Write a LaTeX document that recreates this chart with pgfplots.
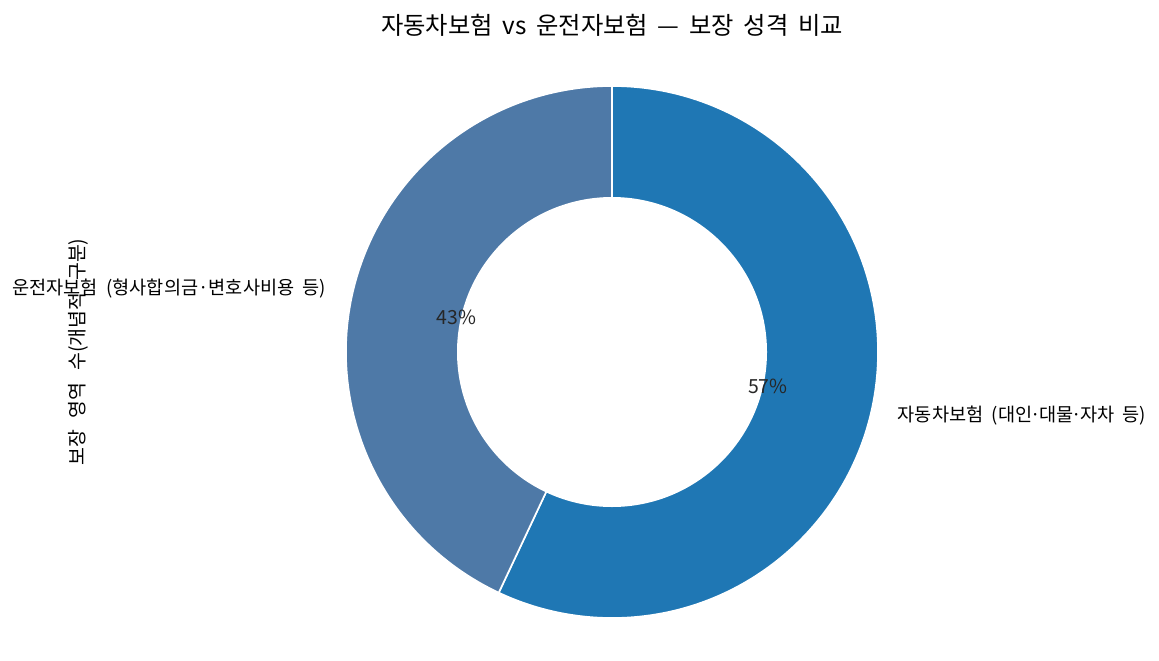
\documentclass[border=0pt]{standalone}
\usepackage{pgfplots}
\pgfplotsset{compat=1.18}
\usepackage{fontspec}
\setmainfont{Noto Sans CJK KR}
\definecolor{cA}{HTML}{1F77B4}
\definecolor{cB}{HTML}{4E79A7}
\definecolor{pct}{RGB}{38,38,38}
\begin{document}
\begin{tikzpicture}
% data (percent shares)
\def\va{57}% 자동차보험
\def\vb{43}% 운전자보험
\pgfmathsetmacro\aB{90-3.6*\va}
\pgfmathsetmacro\mA{90-1.8*\va}
\pgfmathsetmacro\mB{\aB-1.8*\vb}
\pgfmathsetmacro\lAx{1.1*cos(\mA)}\pgfmathsetmacro\lAy{1.1*sin(\mA)}
\pgfmathsetmacro\lBx{1.1*cos(\mB)}\pgfmathsetmacro\lBy{1.1*sin(\mB)}
\pgfmathsetmacro\pAx{0.6*cos(\mA)}\pgfmathsetmacro\pAy{0.6*sin(\mA)}
\pgfmathsetmacro\pBx{0.6*cos(\mB)}\pgfmathsetmacro\pBy{0.6*sin(\mB)}
\def\R{191.52pt}
\def\r{111.6pt}
\begin{axis}[
  hide axis, scale only axis,
  x=191.52pt, y=191.52pt,
  xmin=-2.30075, xmax=2.05639, ymin=-1.15789, ymax=1.32331,
  clip=false,
]
\path (rel axis cs:0,0) rectangle (rel axis cs:1,1);
\coordinate (C) at (axis cs:0,0);
\fill[cA, draw=white, line width=1.2pt, line join=round] (C) -- ++(90:\R) arc[start angle=90, end angle=\aB, radius=\R] -- cycle;
\fill[cB, draw=white, line width=1.2pt, line join=round] (C) -- ++(\aB:\R) arc[start angle=\aB, end angle=-270, radius=\R] -- cycle;
\fill[white] (C) circle[radius=\r];
\node[anchor=west, font=\fontsize{13.4}{15}\selectfont, inner sep=0pt] at (axis cs:\lAx,\lAy) {\spaceskip=0.45em 자동차보험 (대인{\kern-0.1em}·{\kern-0.1em}대물{\kern-0.1em}·{\kern-0.1em}자차 등)};
\node[anchor=east, font=\fontsize{13.4}{15}\selectfont, inner sep=0pt] at (axis cs:\lBx,\lBy) {\spaceskip=0.45em 운전자보험 (형사합의금·변호사비용 등)};
\node[text=pct, font=\fontsize{14}{16}\selectfont, inner sep=0pt] at (axis cs:\pAx,\pAy) {\va\%};
\node[text=pct, font=\fontsize{14}{16}\selectfont, inner sep=0pt] at (axis cs:\pBx,\pBy) {\vb\%};
\node[rotate=90, font=\fontsize{14}{16}\selectfont, inner sep=0pt] at (axis cs:-2.0075,0) {\spaceskip=0.6em 보장 영역 수(개념적 구분)};
\node[font=\fontsize{17.5}{19}\selectfont, inner sep=0pt] at (axis cs:0,1.2293) {\spaceskip=0.4em 자동차보험 vs 운전자보험 — 보장 성격 비교};
\end{axis}
\end{tikzpicture}
\end{document}
